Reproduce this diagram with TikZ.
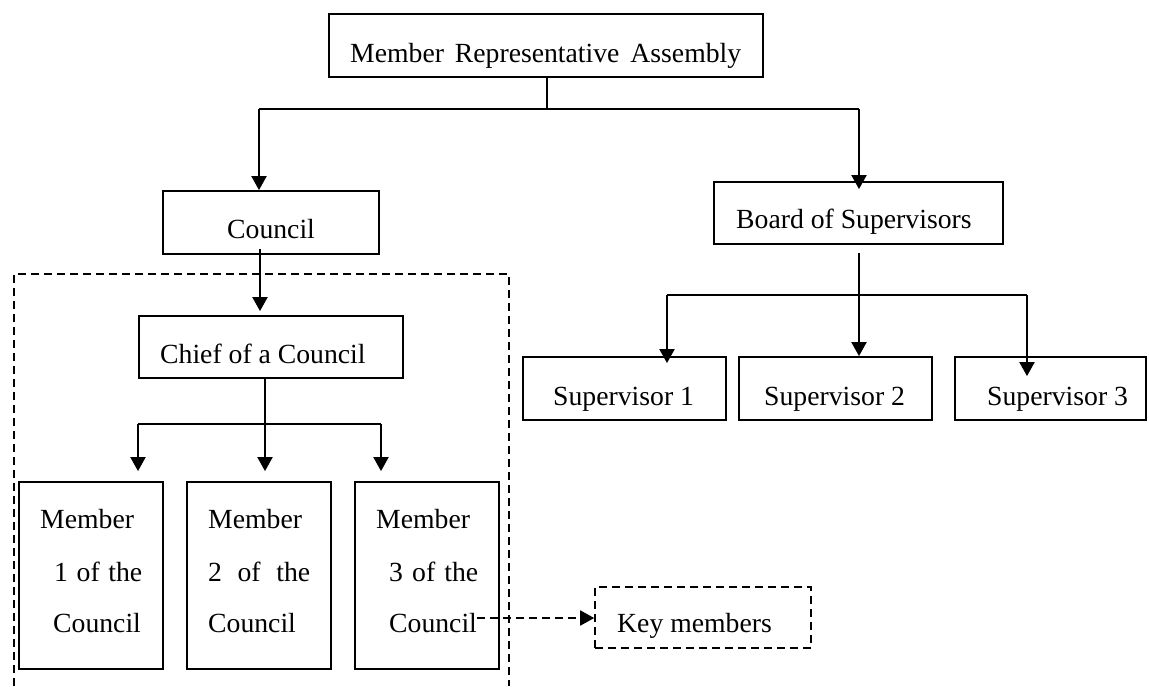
\documentclass[tikz,border=0pt]{standalone}
\usepackage{fontspec}
\setmainfont{Liberation Serif}
\usetikzlibrary{arrows.meta}
\tikzset{
  px/.style={x=1pt,y=-1pt},
  boxnode/.style={draw=black,line width=1.8pt,rectangle,inner sep=0pt},
  dashbox/.style={draw=black,line width=1.6pt,rectangle,inner sep=0pt,dash pattern=on 8pt off 5pt},
  txt/.style={font=\fontsize{27.7}{33}\selectfont,inner sep=0pt,anchor=base west},
  conn/.style={draw=black,line width=2pt},
  arr/.style={conn,-{Triangle[length=14pt,width=15pt]}},
  darr/.style={arr,line width=1.8pt,dash pattern=on 8pt off 5pt},
}
\newcommand{\boxat}[6]{% name, left, top, right, bottom, style
  \node[#6,minimum width={(#4-#2)*1pt},minimum height={(#5-#3)*1pt}] (#1) at ({(#2+#4)/2},{(#3+#5)/2}) {};}
\begin{document}
\begin{tikzpicture}[px]
\useasboundingbox (0,0) rectangle (1149,686);
\fill[white] (0,0) rectangle (1149,686);

% boxes
\boxat{mra}{329}{14}{763}{77}{boxnode}
\boxat{council}{163}{191}{379}{254}{boxnode}
\boxat{board}{714}{182}{1003}{244}{boxnode}
\boxat{chief}{139}{316}{403}{378}{boxnode}
\boxat{mA}{19}{482}{163}{669}{boxnode}
\boxat{mB}{187}{482}{331}{669}{boxnode}
\boxat{mC}{355}{482}{499}{669}{boxnode}
\boxat{supA}{523}{357}{726}{420}{boxnode}
\boxat{supB}{739}{357}{932}{420}{boxnode}
\boxat{supC}{955}{357}{1146}{420}{boxnode}
\boxat{key}{595}{587}{811}{648}{dashbox}

% texts
\node[txt] (tmra) at (350,62) {\makebox[391pt][s]{Member Representative Assembly}};
\node[txt] (tcouncil) at (227,238) {Council};
\node[txt] (tboard) at (736,228) {Board of Supervisors};
\node[txt] (tchief) at (160,363) {Chief of a Council};
\node[txt] (tsupA) at (553,405) {Supervisor 1};
\node[txt] (tsupB) at (764,405) {Supervisor 2};
\node[txt] (tsupC) at (987,405) {Supervisor 3};
\node[txt] (tkey) at (617,632) {Key members};

\node[txt] (tmA1) at (40,528) {Member};
\node[txt] (tmA2) at (54,581) {\makebox[88pt][s]{1 of the}};
\node[txt] (tmA3) at (53,632) {Council};
\node[txt] (tmB1) at (208,528) {Member};
\node[txt] (tmB2) at (208,581) {\makebox[102pt][s]{2 of the}};
\node[txt] (tmB3) at (208,632) {Council};
\node[txt] (tmC1) at (376,528) {Member};
\node[txt] (tmC2) at (389,581) {\makebox[89pt][s]{3 of the}};
\node[txt] (tmC3) at (389,632) {Council};

% dashed frame round the council members
\draw[line width=1.6pt,dash pattern=on 8pt off 5pt] (14,686) -- (14,274) -- (509,274) -- (509,686);

% top level connectors
\coordinate (jtop) at (547,109);
\coordinate (jl) at (259,109);
\coordinate (jr) at (859,109);
\draw[conn,line width=1.3pt] (mra.south -| jtop) -- (jtop);
\draw[conn] (jl) -- (jr);
\draw[arr] (jl) -- (jl |- council.north);
\draw[arr,shorten >=-8pt] (jr) -- (jr |- board.north);

% council to chief
\coordinate (cs) at (260,249);
\draw[arr,shorten >=4pt] (cs) -- (cs |- chief.north);

% chief to members
\coordinate (jc) at (265,424);
\coordinate (jcl) at (138,424);
\coordinate (jcr) at (381,424);
\draw[conn] (chief.south -| jc) -- (jc);
\draw[conn] (jcl) -- (jcr);
\draw[arr,shorten >=10pt] (jcl) -- (jcl |- mA.north);
\draw[arr,shorten >=10pt] (jc) -- (jc |- mB.north);
\draw[arr,shorten >=10pt] (jcr) -- (jcr |- mC.north);

% board to supervisors
\coordinate (bs) at (859,253);
\coordinate (jsl) at (667,295);
\coordinate (jsr) at (1027,295);
\draw[arr] (bs) -- (bs |- supB.north);
\draw[conn] (jsl) -- (jsr);
\draw[arr,shorten >=-7pt] (jsl) -- (jsl |- supA.north);
\draw[arr,shorten >=-20pt] (jsr) -- (jsr |- supC.north);

% member 3 to key members
\coordinate (k0) at (477,618);
\draw[darr] (k0) -- (k0 -| key.west);
\end{tikzpicture}
\end{document}
